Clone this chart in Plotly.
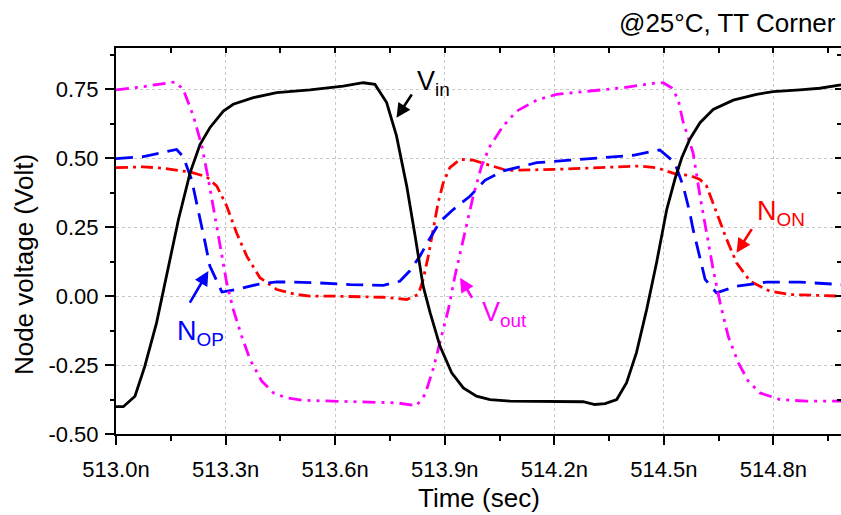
import plotly.graph_objects as go

# ---------------- data ----------------
t_vin = [513.000, 513.020, 513.052, 513.079, 513.111, 513.143, 513.171, 513.203, 513.230, 513.257,
         513.294, 513.321, 513.376, 513.440, 513.531, 513.622, 513.677, 513.709, 513.741, 513.768,
         513.796, 513.819, 513.841, 513.860, 513.887, 513.919, 513.951, 513.987, 514.024, 514.079,
         514.206, 514.279, 514.311, 514.339, 514.371, 514.398, 514.425, 514.453, 514.480, 514.508,
         514.530, 514.549, 514.571, 514.599, 514.635, 514.690, 514.754, 514.799, 514.872, 514.927,
         514.985]
vin = [-0.401, -0.401, -0.363, -0.254, -0.097, 0.097, 0.278, 0.448, 0.550, 0.611,
       0.671, 0.696, 0.720, 0.738, 0.748, 0.762, 0.774, 0.768, 0.702, 0.581,
       0.399, 0.218, 0.036, -0.060, -0.181, -0.278, -0.333, -0.363, -0.375, -0.381,
       -0.383, -0.383, -0.393, -0.390, -0.375, -0.314, -0.205, -0.048, 0.121, 0.315,
       0.423, 0.502, 0.569, 0.629, 0.677, 0.711, 0.732, 0.742, 0.748, 0.754,
       0.766]

t_vout = [513.000, 513.075, 513.162, 513.184, 513.212, 513.235, 513.253, 513.271, 513.289, 513.303,
          513.321, 513.344, 513.367, 513.399, 513.431, 513.467, 513.513, 513.686, 513.768, 513.823,
          513.846, 513.868, 513.892, 513.910, 513.928, 513.946, 513.960, 513.978, 514.001, 514.024,
          514.060, 514.097, 514.152, 514.206, 514.298, 514.389, 514.471, 514.498, 514.521, 514.539,
          514.553, 514.580, 514.599, 514.617, 514.635, 514.654, 514.676, 514.704, 514.731, 514.763,
          514.818, 514.891, 514.985]
vout = [0.748, 0.760, 0.777, 0.750, 0.653, 0.544, 0.423, 0.290, 0.145, 0.049,
        -0.048, -0.145, -0.230, -0.308, -0.351, -0.369, -0.378, -0.383, -0.387, -0.397,
        -0.357, -0.266, -0.145, -0.048, 0.073, 0.181, 0.266, 0.363, 0.472, 0.544,
        0.617, 0.671, 0.711, 0.732, 0.744, 0.756, 0.772, 0.774, 0.756, 0.714,
        0.630, 0.520, 0.363, 0.230, 0.097, -0.024, -0.145, -0.242, -0.308, -0.351,
        -0.375, -0.381, -0.381]

t_nop = [513.000, 513.075, 513.166, 513.184, 513.207, 513.225, 513.244, 513.257, 513.290, 513.330,
         513.385, 513.440, 513.490, 513.540, 513.641, 513.732, 513.777, 513.804, 513.832, 513.855,
         513.887, 513.924, 513.969, 514.010, 514.060, 514.152, 514.243, 514.334, 514.416, 514.489,
         514.503, 514.530, 514.553, 514.571, 514.580, 514.599, 514.613, 514.644, 514.699, 514.781,
         514.872, 514.985]
nop = [0.499, 0.506, 0.532, 0.506, 0.423, 0.315, 0.194, 0.109, 0.015, 0.024,
       0.042, 0.052, 0.051, 0.049, 0.042, 0.039, 0.054, 0.091, 0.145, 0.200,
       0.270, 0.315, 0.362, 0.420, 0.454, 0.484, 0.493, 0.502, 0.511, 0.530,
       0.514, 0.484, 0.399, 0.303, 0.242, 0.133, 0.061, 0.012, 0.036, 0.051,
       0.051, 0.042]

t_non = [513.000, 513.075, 513.129, 513.203, 513.248, 513.276, 513.303, 513.330, 513.358, 513.394,
         513.440, 513.494, 513.531, 513.595, 513.732, 513.796, 513.828, 513.841, 513.855, 513.868,
         513.882, 513.896, 513.914, 513.942, 513.978, 514.015, 514.051, 514.070, 514.206, 514.343,
         514.434, 514.480, 514.535, 514.571, 514.599, 514.617, 514.644, 514.672, 514.699, 514.736,
         514.790, 514.845, 514.985]
non = [0.466, 0.469, 0.464, 0.450, 0.433, 0.399, 0.327, 0.230, 0.145, 0.067,
       0.024, 0.006, 0.000, 0.000, -0.004, -0.012, 0.006, 0.061, 0.145, 0.242,
       0.339, 0.411, 0.466, 0.496, 0.493, 0.478, 0.462, 0.456, 0.460, 0.466,
       0.472, 0.466, 0.442, 0.438, 0.423, 0.399, 0.303, 0.206, 0.121, 0.054,
       0.018, 0.006, 0.000]

x_tickvals = [513.0, 513.3, 513.6, 513.9, 514.2, 514.5, 514.8]
x_ticktext = ["513.0n", "513.3n", "513.6n", "513.9n", "514.2n", "514.5n", "514.8n"]
y_tickvals = [-0.5, -0.25, 0.0, 0.25, 0.5, 0.75]
y_ticktext = ["-0.50", "-0.25", "0.00", "0.25", "0.50", "0.75"]

# ---------------- figure ----------------
FONT = "Liberation Sans, Arial, sans-serif"
fig = go.Figure()

fig.add_trace(go.Scatter(x=t_non, y=non, mode="lines", name="N_ON",
                         line=dict(color="#FF0000", width=2.8, dash="12px,5px,3px,5px")))
fig.add_trace(go.Scatter(x=t_nop, y=nop, mode="lines", name="N_OP",
                         line=dict(color="#0000FF", width=2.8, dash="17px,9px")))
fig.add_trace(go.Scatter(x=t_vout, y=vout, mode="lines", name="V_out",
                         line=dict(color="#FF00FF", width=2.8, dash="13px,6px,3px,6px,3px,6px")))
fig.add_trace(go.Scatter(x=t_vin, y=vin, mode="lines", name="V_in",
                         line=dict(color="#000000", width=2.8)))
# invisible trace for the mirrored (top/right) axes
fig.add_trace(go.Scatter(x=[None], y=[None], xaxis="x2", yaxis="y2", showlegend=False,
                         hoverinfo="skip"))

XR = [513.0, 514.985]
YR = [-0.5, 0.9]

fig.update_layout(
    width=841, height=515,
    margin=dict(l=116, r=0, t=48, b=81),
    paper_bgcolor="white", plot_bgcolor="white",
    showlegend=False,
    font=dict(family=FONT, color="black"),
    xaxis=dict(range=XR, tickmode="array", tickvals=x_tickvals, ticktext=x_ticktext,
               ticks="outside", ticklen=9, tickwidth=2, tickcolor="black",
               ticklabelstandoff=6, automargin=False,
               tickfont=dict(size=22, family=FONT),
               showline=True, linecolor="black", linewidth=2,
               showgrid=True, gridcolor="#c8c8c8", griddash="dot", gridwidth=1,
               zeroline=False,
               minor=dict(tickmode="linear", tick0=513.0, dtick=0.15, ticks="outside",
                          ticklen=5, tickwidth=2, tickcolor="black", showgrid=False)),
    yaxis=dict(range=YR, tickmode="array", tickvals=y_tickvals, ticktext=y_ticktext,
               ticks="outside", ticklen=9, tickwidth=2, tickcolor="black",
               ticklabelstandoff=2, automargin=False,
               tickfont=dict(size=22, family=FONT),
               showline=True, linecolor="black", linewidth=2,
               showgrid=True, gridcolor="#c8c8c8", griddash="dot", gridwidth=1,
               zeroline=False,
               minor=dict(tickmode="linear", tick0=-0.5, dtick=0.125, ticks="outside",
                          ticklen=4, tickwidth=2, tickcolor="black", showgrid=False)),
    xaxis2=dict(range=XR, overlaying="x", side="top", anchor="y2", automargin=False,
                tickmode="array", tickvals=x_tickvals, ticks="inside", ticklen=5,
                tickwidth=2, tickcolor="black", showticklabels=False,
                showline=True, linecolor="black", linewidth=2, showgrid=False, zeroline=False,
                minor=dict(tickmode="linear", tick0=513.0, dtick=0.15, ticks="inside",
                           ticklen=5, tickwidth=2, tickcolor="black", showgrid=False)),
    yaxis2=dict(range=YR, overlaying="y", side="right", anchor="x2", automargin=False,
                tickmode="array", tickvals=y_tickvals, ticks="inside", ticklen=6,
                tickwidth=2, tickcolor="black", showticklabels=False,
                showline=True, linecolor="black", linewidth=2, showgrid=False, zeroline=False,
                minor=dict(tickmode="linear", tick0=-0.5, dtick=0.125, ticks="inside",
                           ticklen=4, tickwidth=2, tickcolor="black", showgrid=False)),
)

annots = []
# axis titles and corner title
annots.append(dict(text="Time (sec)", xref="paper", yref="paper", x=0.5, y=-0.166,
                   xanchor="center", yanchor="middle", showarrow=False,
                   font=dict(size=26, family=FONT)))
annots.append(dict(text="Node voltage (Volt)", xref="paper", yref="paper", x=-0.127, y=0.44,
                   xanchor="center", yanchor="middle", textangle=-90, showarrow=False,
                   font=dict(size=26, family=FONT)))
annots.append(dict(text="@25°C, TT Corner", xref="paper", yref="paper", x=0.996, y=1.065,
                   xanchor="right", yanchor="middle", showarrow=False,
                   font=dict(size=26, family=FONT)))

# labels with arrows (head at (x, y), tail at (ax, ay))
labels = [
    ("V<sub>in</sub>", "#000000", 513.768, 0.647, 513.818, 0.748, 513.819, 0.772),
    ("N<sub>ON</sub>", "#FF0000", 514.699, 0.157, 514.749, 0.260, 514.749, 0.300),
    ("N<sub>OP</sub>", "#0000FF", 513.253, 0.091, 513.194, -0.042, 513.1615, -0.132),
    ("V<sub>out</sub>", "#FF00FF", 513.942, 0.067, 513.983, -0.024, 513.996, -0.063),
]
for txt, col, hx, hy, tx, ty, lx, ly in labels:
    annots.append(dict(x=hx, y=hy, ax=tx, ay=ty, xref="x", yref="y", axref="x", ayref="y",
                       text=" ", showarrow=True, arrowhead=2, arrowsize=1.1, arrowwidth=2.6,
                       arrowcolor=col, standoff=0, startstandoff=0))
    annots.append(dict(x=lx, y=ly, xref="x", yref="y", text=txt, showarrow=False,
                       xanchor="left", yanchor="middle",
                       font=dict(size=27, family=FONT, color=col)))

fig.update_layout(annotations=annots)
fig.write_html("out.html", config={"displayModeBar": False},
               post_script="document.body.style.margin='0';document.body.style.overflow='hidden';")
